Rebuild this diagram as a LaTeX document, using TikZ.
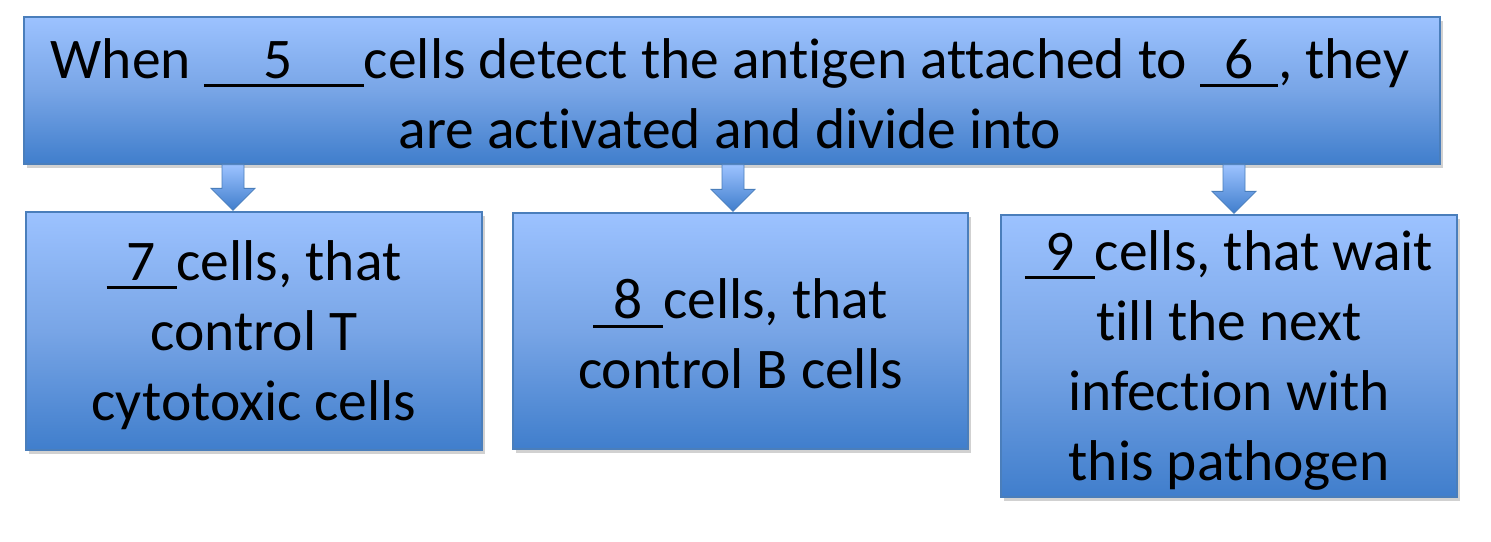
\documentclass[tikz,border=0pt]{standalone}
\usepackage{fontspec}
\setmainfont{Carlito}[Ligatures=NoCommon]
\usetikzlibrary{calc}
\definecolor{boxtop}{RGB}{156,194,255}
\definecolor{boxmid}{RGB}{120,165,230}
\definecolor{boxbot}{RGB}{64,126,204}
\definecolor{boxline}{RGB}{74,126,187}
\newcommand\blankfill[2]{\makebox[0pt][l]{\rule[-9pt]{#1}{3pt}}\makebox[#1]{#2}}
\tikzset{
  gbox/.style={draw=boxline, line width=1.3pt, top color=boxtop, bottom color=boxbot,
    middle color=boxmid, inner sep=0pt},
  btext/.style={align=center, inner sep=0pt, font=\fontsize{57.5}{70}\selectfont},
  gshadow/.style={fill=black, opacity=0.18},
  barrow/.style={draw=boxline, line width=0.8pt, top color=boxtop, bottom color=boxbot}
}
\begin{document}
\begin{tikzpicture}[x=1pt,y=-1pt]
\useasboundingbox (0,0) rectangle (1491,541);
% shadows
\fill[gshadow] (27,21) rectangle (1443,168);
\fill[gshadow] (29,216) rectangle (485,454);
\fill[gshadow] (516,217) rectangle (971,453);
\fill[gshadow] (1004,219) rectangle (1460,501);
% boxes
\node[gbox, minimum width=1416pt, minimum height=147pt] (top) at (732,90.5) {};
\node[gbox, minimum width=456pt, minimum height=238pt] (b1) at (254,331) {};
\node[gbox, minimum width=455pt, minimum height=236pt] (b2) at (740.5,331) {};
\node[gbox, minimum width=456pt, minimum height=282pt] (b3) at (1229,356) {};
% texts
\node[btext] (toptext) at ($(top.center)+(-2,3)$)
  {When \blankfill{160pt}{\hspace{-12pt}5}cells detect the antigen attached to \blankfill{78pt}{6}, they\\ are activated and divide into};
\node[btext] (b1text) at ($(b1.center)+(0,4)$)
  {\blankfill{70pt}{7}cells, that\\ control T\\ cytotoxic cells};
\node[btext] (b2text) at ($(b2.center)+(0,3)$)
  {\blankfill{70pt}{8}cells, that\\ control B cells};
\node[btext] (b3text) at ($(b3.center)+(0,4)$)
  {\blankfill{70pt}{9}cells, that wait\\ till the next\\ infection with\\ this pathogen};
% block arrows
\foreach \ax/\tgt in {233/b1, 733/b2, 1234/b3}{
  \coordinate (s) at (top.south -| \ax,0);
  \coordinate (e) at (\tgt.north -| \ax,0);
  \path[barrow] ($(s)+(-11,0)$) -- ($(s)+(11,0)$) -- ($(e)+(11,-23)$) -- ($(e)+(22,-23)$)
    -- ($(e)+(0,-1)$) -- ($(e)+(-22,-23)$) -- ($(e)+(-11,-23)$) -- cycle;
}
\end{tikzpicture}
\end{document}
